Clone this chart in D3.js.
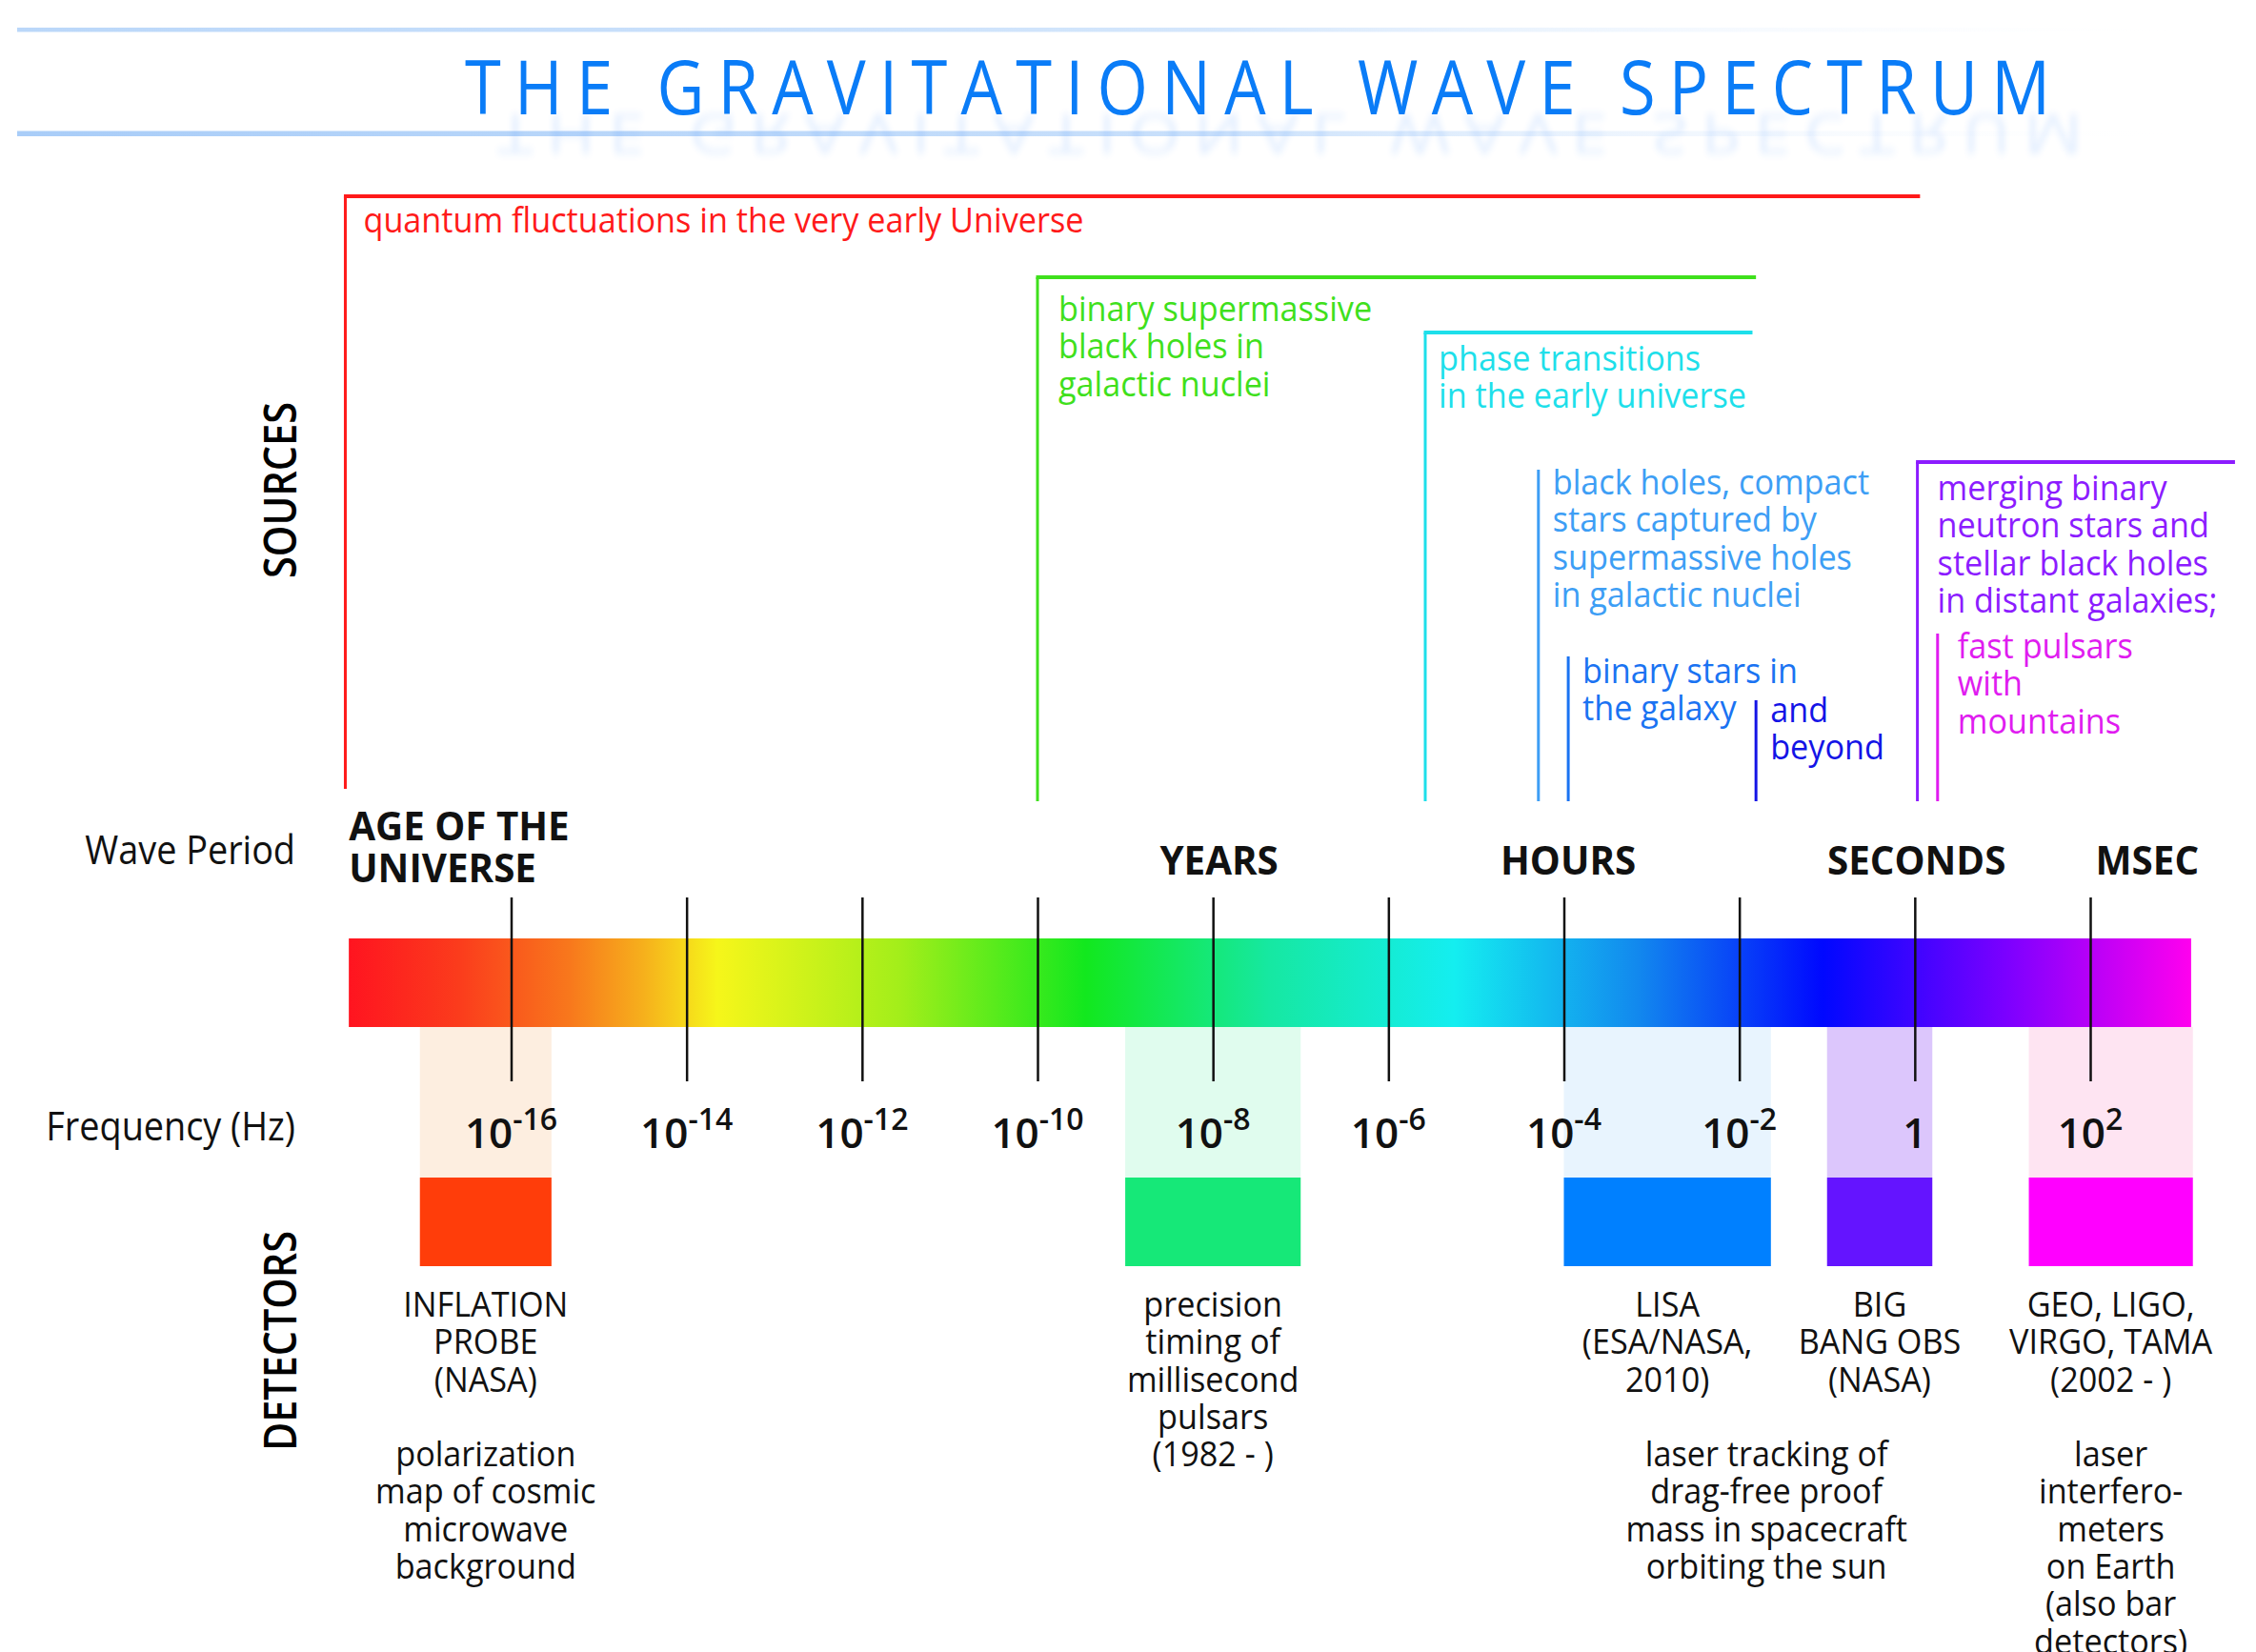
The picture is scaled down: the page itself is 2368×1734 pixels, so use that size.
<!DOCTYPE html>
<html>
<head>
<meta charset="utf-8">
<script src="https://cdn.jsdelivr.net/npm/d3@7"></script>
<style>
  body { margin: 0; background: #fff; }
  svg { display: block; font-family: "Open Sans", sans-serif; }
</style>
</head>
<body>
<div id="chart"></div>
<script>
const width = 2368, height = 1734;

// frequency axis (Hz), ticks every two decades
const tickExponents = [-16, -14, -12, -10, -8, -6, -4, -2, 0, 2];
const spectrumRange = [10 ** -17.85, 10 ** 3.15];

// wave period labels and where they sit on the frequency axis
const periodNames = [["AGE OF THE", "UNIVERSE"], ["YEARS"], ["HOURS"], ["SECONDS"], ["MSEC"]];
const periodFreqs = [10 ** -17.85, 10 ** -7.93, 10 ** -3.95, 10 ** 0.02, 10 ** 2.65];

// sources: lowest frequency (vertical line) and highest (top bar, if any)
const sourceNames = [
    ["quantum fluctuations in the very early Universe"],
    ["binary supermassive", "black holes in", "galactic nuclei"],
    ["phase transitions", "in the early universe"],
    ["black holes, compact", "stars captured by", "supermassive holes", "in galactic nuclei"],
    ["binary stars in", "the galaxy"],
    ["and", "beyond"],
    ["merging binary", "neutron stars and", "stellar black holes", "in distant galaxies;"],
    ["fast pulsars", "with", "mountains"]
];
const sourceLow = [10 ** -17.89, 1e-10, 10 ** -5.58, 10 ** -4.29, 10 ** -3.95, 10 ** -1.81, 10 ** 0.03, 10 ** 0.26];
const sourceHigh = [10 ** 0.06, 10 ** -1.81, 10 ** -1.85, null, null, null, 10 ** 3.65, null];

// detectors: frequency band and descriptions
const detectorNames = [
    ["INFLATION", "PROBE", "(NASA)"],
    ["precision", "timing of", "millisecond", "pulsars", "(1982 - )"],
    ["LISA", "(ESA/NASA,", "2010)"],
    ["BIG", "BANG OBS", "(NASA)"],
    ["GEO, LIGO,", "VIRGO, TAMA", "(2002 - )"]
];
const detectorNotes = [
    ["polarization", "map of cosmic", "microwave", "background"],
    [],
    ["laser tracking of", "drag-free proof", "mass in spacecraft", "orbiting the sun"],
    [],
    ["laser", "interfero-", "meters", "on Earth", "(also bar", "detectors)"]
];
const detectorLow = [10 ** -17.04, 1e-9, 1e-4, 1e-1, 10 ** 1.3];
const detectorHigh = [10 ** -15.54, 1e-7, 10 ** -1.64, 10 ** 0.2, 10 ** 3.17];

// ---- layout / styling ----
const sourceColors = ["#ff1a1a", "#3fe01c", "#1edfea", "#3d9ef5", "#1a73f2", "#1414e6", "#8c1cff", "#e01cf0"];
const sourceTop = [206, 291, 349, 493, 689, 735, 485, 665];
const sourceBottom = [828, 841, 841, 841, 841, 841, 841, 841];
const sourceTextY = [244, 337, 389, 519, 717, 758, 525, 691];
const sourceTextDx = [19, 22, 14, 15, 15, 15, 21, 21];
const detectorSolid = ["#ff3d0a", "#16e878", "#0080ff", "#6414ff", "#ff00ff"];
const detectorLight = ["#fdeee0", "#e0fcee", "#e8f4fe", "#dcc6fc", "#fee4f2"];
const noteDx = [0, 0, 104, 0, 0];
const lineStep = 39.3;
const barTop = 985, barBottom = 1078;

const x = d3.scaleLog().domain([1e-16, 1e2]).range([536.5, 2194]);

const svg = d3.select('#chart').append('svg')
    .attr('width', width)
    .attr('height', height)
    .attr('viewBox', [0, 0, width, height]);

const defs = svg.append('defs');

// squeeze Open Sans towards the narrower look of the original face
function condense(sel, k) {
    sel.each(function () {
        const len = this.getComputedTextLength();
        d3.select(this).attr('textLength', len * k).attr('lengthAdjust', 'spacingAndGlyphs');
    });
}

//header rules
const rule = defs.append('linearGradient').attr('id', 'rule');
rule.append('stop').attr('offset', 0).attr('stop-color', '#a9cdf8');
rule.append('stop').attr('offset', 0.55).attr('stop-color', '#c9e0fb');
rule.append('stop').attr('offset', 1).attr('stop-color', '#fff').attr('stop-opacity', 0);
svg.append('rect').attr('x', 18).attr('y', 29).attr('width', 2280).attr('height', 4.5)
    .attr('fill', 'url(#rule)').attr('opacity', 0.8);
svg.append('rect').attr('x', 18).attr('y', 137.5).attr('width', 2280).attr('height', 5.5)
    .attr('fill', 'url(#rule)');

//title + soft reflection
defs.append('filter').attr('id', 'blur').attr('x', '-5%').attr('y', '-80%').attr('width', '110%').attr('height', '260%')
    .append('feGaussianBlur').attr('stdDeviation', '3 6');
const titleText = 'THE GRAVITATIONAL WAVE SPECTRUM';
svg.append('g')
    .attr('transform', 'matrix(1,0,0,-0.72,34,206.4)')
    .attr('filter', 'url(#blur)')
    .attr('opacity', 0.13)
    .append('text')
    .attr('transform', 'translate(488,120) scale(0.88,1)')
    .attr('font-size', 78)
    .attr('fill', '#2b7fff')
    .attr('textLength', 1664 / 0.88)
    .attr('lengthAdjust', 'spacing')
    .text(titleText);
svg.append('text')
    .attr('transform', 'translate(488,120) scale(0.88,1)')
    .attr('font-size', 78)
    .attr('fill', '#0a7cf7')
    .attr('textLength', 1664 / 0.88)
    .attr('lengthAdjust', 'spacing')
    .text(titleText);

//side headings
svg.append('text')
    .attr('transform', 'translate(311,514.5) rotate(-90)')
    .attr('text-anchor', 'middle')
    .attr('font-size', 47).attr('font-weight', 600)
    .attr('textLength', 185).attr('lengthAdjust', 'spacingAndGlyphs')
    .text('SOURCES');
svg.append('text')
    .attr('transform', 'translate(311,1407.5) rotate(-90)')
    .attr('text-anchor', 'middle')
    .attr('font-size', 47).attr('font-weight', 600)
    .attr('textLength', 231).attr('lengthAdjust', 'spacingAndGlyphs')
    .text('DETECTORS');

const rowLabels = svg.append('g')
    .attr('font-size', 42)
    .attr('text-anchor', 'end')
    .attr('fill', '#111');
rowLabels.append('text').attr('x', 310).attr('y', 907).text('Wave Period');
rowLabels.append('text').attr('x', 310).attr('y', 1197).text('Frequency (Hz)');
condense(rowLabels.selectAll('text'), 0.9);

//sources
const sources = svg.append('g')
    .selectAll('g')
    .data(sourceNames.map((lines, i) => ({lines, lo: sourceLow[i], hi: sourceHigh[i], i})))
    .join('g')
    .attr('stroke', d => sourceColors[d.i])
    .attr('fill', d => sourceColors[d.i]);

sources.append('line')
    .attr('x1', d => x(d.lo)).attr('x2', d => x(d.lo))
    .attr('y1', d => sourceTop[d.i]).attr('y2', d => sourceBottom[d.i])
    .attr('stroke-width', 3);

sources.filter(d => d.hi !== null)
    .append('line')
    .attr('x1', d => x(d.lo) - 1.5).attr('x2', d => x(d.hi))
    .attr('y1', d => sourceTop[d.i]).attr('y2', d => sourceTop[d.i])
    .attr('stroke-width', 4);

const sourceText = sources.selectAll('text')
    .data(d => d.lines.map((t, j) => ({t, j, i: d.i, lo: d.lo})))
    .join('text')
    .attr('stroke', 'none')
    .attr('font-size', 36)
    .attr('x', d => x(d.lo) + sourceTextDx[d.i])
    .attr('y', d => sourceTextY[d.i] + d.j * lineStep)
    .text(d => d.t);
condense(sourceText, 0.95);

//detector bands (pale part behind the bar ticks)
const detectors = detectorNames.map((lines, i) => ({lines, notes: detectorNotes[i], lo: detectorLow[i], hi: detectorHigh[i], i}));

svg.append('g')
    .selectAll('rect')
    .data(detectors)
    .join('rect')
    .attr('x', d => x(d.lo))
    .attr('width', d => x(d.hi) - x(d.lo))
    .attr('y', barBottom)
    .attr('height', 1236 - barBottom)
    .attr('fill', d => detectorLight[d.i]);

svg.append('g')
    .selectAll('rect')
    .data(detectors)
    .join('rect')
    .attr('x', d => x(d.lo))
    .attr('width', d => x(d.hi) - x(d.lo))
    .attr('y', 1236)
    .attr('height', 93)
    .attr('fill', d => detectorSolid[d.i]);

//spectrum bar
const spectrumStops = [
    [0, '#ff1420'], [0.06, '#fb3c1c'], [0.12, '#f8781c'], [0.16, '#f6b01c'], [0.2, '#f6f61a'],
    [0.3, '#a2ee1a'], [0.4, '#12e81e'], [0.5, '#16e8a2'], [0.6, '#14eef0'], [0.7, '#1288ee'],
    [0.8, '#0008ff'], [0.9, '#7c00ff'], [1, '#ff00ee']
];
const spec = defs.append('linearGradient').attr('id', 'spectrum');
spec.selectAll('stop').data(spectrumStops).join('stop')
    .attr('offset', d => d[0])
    .attr('stop-color', d => d[1]);

svg.append('rect')
    .attr('x', x(spectrumRange[0]))
    .attr('width', x(spectrumRange[1]) - x(spectrumRange[0]))
    .attr('y', barTop)
    .attr('height', barBottom - barTop)
    .attr('fill', 'url(#spectrum)');

//tick lines through the bar
svg.append('g')
    .attr('transform', 'translate(0,942)')
    .call(d3.axisBottom(x).tickValues(tickExponents.map(e => 10 ** e)).tickSize(193).tickFormat(''))
    .call(g => g.select('.domain').remove())
    .call(g => g.selectAll('.tick line').attr('stroke', '#111').attr('stroke-width', 2.5));

//frequency labels
svg.append('g')
    .attr('font-size', 44)
    .attr('font-weight', 600)
    .attr('text-anchor', 'middle')
    .attr('fill', '#111')
    .selectAll('text')
    .data(tickExponents)
    .join('text')
    .attr('x', d => x(10 ** d))
    .attr('y', 1205)
    .each(function (d) {
        const t = d3.select(this);
        if (d === 0) { t.text('1'); return; }
        t.append('tspan').text('10');
        t.append('tspan').attr('dy', -19).attr('font-size', 32).text(d);
    });

//wave period labels
const periods = svg.append('g')
    .attr('font-size', 42)
    .attr('font-weight', 700)
    .attr('fill', '#111')
    .selectAll('text')
    .data(periodNames.map((lines, i) => ({lines, f: periodFreqs[i], i})))
    .join('text')
    .attr('text-anchor', d => d.i === 0 ? 'start' : 'middle')
    .attr('x', d => x(d.f))
    .attr('y', d => d.i === 0 ? 882 : 918);
periods.selectAll('tspan')
    .data(d => d.lines.map((t, j) => ({t, j, d})))
    .join('tspan')
    .attr('x', d => x(d.d.f))
    .attr('dy', d => d.j === 0 ? 0 : 44)
    .text(d => d.t);
condense(periods.selectAll('tspan'), 0.96);

//detector captions
const captions = svg.append('g')
    .attr('font-size', 36)
    .attr('text-anchor', 'middle')
    .attr('fill', '#111')
    .selectAll('g')
    .data(detectors)
    .join('g');

captions.selectAll('text.name')
    .data(d => d.lines.map((t, j) => ({t, j, d})))
    .join('text')
    .attr('class', 'name')
    .attr('x', d => (x(d.d.lo) + x(d.d.hi)) / 2)
    .attr('y', d => 1382 + d.j * lineStep)
    .text(d => d.t);

captions.selectAll('text.note')
    .data(d => d.notes.map((t, j) => ({t, j, d})))
    .join('text')
    .attr('class', 'note')
    .attr('x', d => (x(d.d.lo) + x(d.d.hi)) / 2 + noteDx[d.d.i])
    .attr('y', d => 1539 + d.j * lineStep)
    .text(d => d.t);

condense(captions.selectAll('text'), 0.95);
</script>
</body>
</html>
